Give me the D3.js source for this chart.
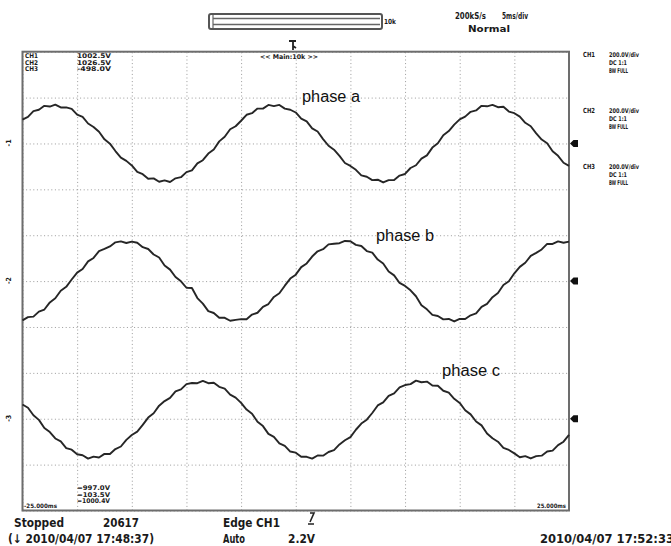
<!DOCTYPE html>
<html>
<head>
<meta charset="utf-8">
<script src="https://cdn.jsdelivr.net/npm/d3@7/dist/d3.min.js"></script>
<style>
  body { margin: 0; background: #fff; }
  svg text { font-family: "Liberation Sans Narrow", "DejaVu Sans Condensed", "Liberation Sans", sans-serif; fill: #1a1a1a; }
  .scope { font-weight: bold; }
  .phase { font-family: "Liberation Sans", Arial, sans-serif; font-weight: normal; fill: #111; }
</style>
</head>
<body>
<svg id="chart" width="671" height="546"></svg>
<script>
// sampled traces, volts, one sample every 0.5 ms from -25 ms
const startMs = -25;
const stepMs = 0.5;
const voltsPerDiv = 200;

const phaseA = [104,116,141,147,164,161,169,157,157,151,126,116,87,72,51,18,-1,-33,-62,-76,
  -96,-124,-134,-154,-152,-167,-161,-168,-152,-147,-125,-117,-87,-73,-44,-26,9,29,62,75,
  99,125,132,152,152,168,163,168,152,147,135,108,96,66,52,19,-10,-27,-54,-85,
  -98,-115,-139,-145,-160,-158,-170,-160,-159,-140,-133,-107,-95,-66,-52,-18,1,36,54,82,
  105,117,138,144,164,162,168,158,160,139,132,117,90,75,44,17,1,-34,-54,-84,-98];

const phaseB = [-171,-157,-155,-133,-124,-93,-75,-42,-25,7,37,53,86,101,131,140,151,169,173,166,
  172,167,148,140,116,103,68,50,18,-1,-29,-30,-74,-98,-131,-139,-160,-160,-173,-169,
  -166,-166,-146,-138,-112,-100,-69,-53,-20,11,28,61,77,107,130,139,160,163,165,175,
  174,158,153,131,124,94,77,42,25,-8,-21,-40,-66,-105,-123,-147,-152,-167,-165,-176,
  -165,-165,-149,-141,-112,-99,-70,-52,-17,-1,34,62,80,110,123,138,162,162,173,167,172];

const phaseC = [62,48,15,-5,-40,-58,-86,-99,-128,-135,-155,-159,-174,-165,-169,-153,-154,-132,-121,-92,
  -71,-56,-27,5,24,57,77,91,119,128,151,156,155,165,155,157,139,131,105,92,
  69,40,22,-13,-32,-66,-79,-107,-118,-143,-148,-166,-166,-174,-160,-161,-145,-137,-112,-94,
  -80,-48,-21,-4,25,58,71,100,111,137,147,151,166,159,162,145,144,122,114,87,
  69,37,19,-12,-29,-64,-85,-100,-127,-136,-151,-168,-163,-173,-163,-161,-143,-139,-115,-100,-70];

const traces = [phaseA, phaseB, phaseC];
const phaseNames = ["phase a", "phase b", "phase c"];
const channelOffsets = [3, 0, -3];           // trace position, divisions
const channelNames = ["CH1", "CH2", "CH3"];
const channelSetup = ["200.0V/div", "DC   1:1", "BW FULL"];
const cursorLevels = ["1002.5V", "1026.5V", "-498.0V"];
const cursorDeltas = ["=997.0V", "=103.5V", "=1000.4V"];
const timeDomain = [-25, 25];
const timeLabels = ["-25.000ms", "25.000ms"];

const svg = d3.select("#chart");
const plotL = 22.5, plotR = 569, plotT = 51.7, plotB = 510.5;

const x = d3.scaleLinear().domain(timeDomain).range([plotL, plotR]);
const y = d3.scaleLinear().domain([-5, 5]).range([plotB, plotT]);

// dotted graticule
const grid = svg.append("g").attr("class", "grid");
grid.append("g")
  .attr("transform", `translate(0, ${plotB})`)
  .call(d3.axisBottom(x).ticks(10).tickSize(-(plotB - plotT)).tickFormat(""));
grid.append("g")
  .attr("transform", `translate(${plotL}, 0)`)
  .call(d3.axisLeft(y).ticks(10).tickSize(-(plotR - plotL)).tickFormat(""));
grid.selectAll(".domain").remove();
grid.selectAll(".tick line")
  .attr("stroke", "#9a9a9a")
  .attr("stroke-width", 1)
  .attr("stroke-dasharray", "1,2.6");

svg.append("rect")
  .attr("x", plotL).attr("y", plotT)
  .attr("width", plotR - plotL).attr("height", plotB - plotT)
  .attr("fill", "none").attr("stroke", "#6d6d6d").attr("stroke-width", 2);

// traces
const line = (off) => d3.line()
  .x((d, i) => x(startMs + i * stepMs))
  .y(d => y(off + d / voltsPerDiv));

traces.forEach((tr, i) => {
  svg.append("path")
    .datum(tr)
    .attr("fill", "none")
    .attr("stroke", "#262626")
    .attr("stroke-width", 1.9)
    .attr("stroke-linejoin", "round")
    .attr("d", line(channelOffsets[i]));
});

// phase labels
const labelPos = [[302, 102], [376, 241], [442, 376]];
svg.selectAll(".phase").data(phaseNames).enter()
  .append("text")
  .attr("class", "phase")
  .attr("x", (d, i) => labelPos[i][0])
  .attr("y", (d, i) => labelPos[i][1])
  .attr("font-size", 16)
  .attr("textLength", 58)
  .attr("lengthAdjust", "spacingAndGlyphs")
  .text(d => d);

// ground markers, right and left
channelOffsets.forEach((off, i) => {
  const gy = y(off);
  svg.append("path")
    .attr("d", `M570,${gy} L573.5,${gy - 3.5} L578,${gy - 3.5} L578,${gy + 3.5} L573.5,${gy + 3.5} Z`)
    .attr("fill", "#111");
  svg.append("text")
    .attr("class", "scope")
    .attr("transform", `translate(11, ${gy + 3}) rotate(-90)`)
    .attr("font-size", 7)
    .text("-" + (i + 1));
});

// scope text helper
const txt = (s, tx, ty, size, len, anchor) => {
  const t = svg.append("text")
    .attr("class", "scope")
    .attr("x", tx).attr("y", ty)
    .attr("font-size", size)
    .attr("text-anchor", anchor || "start")
    .text(s);
  if (len) t.attr("textLength", len).attr("lengthAdjust", "spacingAndGlyphs");
  return t;
};

// record length bar
svg.append("rect").attr("x", 209).attr("y", 14).attr("width", 173).attr("height", 15)
  .attr("rx", 2).attr("fill", "#fff").attr("stroke", "#555").attr("stroke-width", 2);
svg.append("line").attr("x1", 213).attr("x2", 380).attr("y1", 18.5).attr("y2", 18.5)
  .attr("stroke", "#666").attr("stroke-width", 1.5);
svg.append("line").attr("x1", 213).attr("x2", 380).attr("y1", 24.5).attr("y2", 24.5)
  .attr("stroke", "#666").attr("stroke-width", 1.5);
svg.append("line").attr("x1", 213).attr("x2", 213).attr("y1", 15).attr("y2", 28)
  .attr("stroke", "#666").attr("stroke-width", 1.2);
txt("10k", 384, 24, 7, 12);

txt("200kS/s", 455, 19, 9, 31);
txt("5ms/div", 502, 19, 9, 26);
txt("Normal", 468, 32, 9, 42);

// trigger position mark
svg.append("path")
  .attr("d", "M289,41 L296,41 M293,41 L293,50 M293,46 L296,48")
  .attr("stroke", "#222").attr("stroke-width", 1.8).attr("fill", "none");

txt("<< Main:10k >>", 260, 58.5, 6.5, 58);

// cursor info inside frame
channelNames.forEach((c, i) => {
  txt(c, 25, 58 + i * 6.6, 6.5, 13);
  txt(cursorLevels[i], 77, 58 + i * 6.6, 6.5, 34);
  txt(cursorDeltas[i], 77, 490 + i * 6.6, 6.5, 33);
});
txt(timeLabels[0], 24, 507.5, 6, 33);
txt(timeLabels[1], 566, 507.5, 6, 29, "end");

// channel setup column
const setupTop = [57, 113, 169];
channelNames.forEach((c, i) => {
  txt(c, 583, setupTop[i], 7, 12);
  channelSetup.forEach((s, j) => {
    txt(s, 609, setupTop[i] + j * 8, 6.5, j === 0 ? 30 : (j === 1 ? 18 : 19));
  });
});

// status lines
txt("Stopped", 14, 527, 12, 50);
txt("20617", 103, 527, 12, 36);
txt("Edge CH1", 223, 527, 12, 57);
txt("Auto", 223, 543, 12, 22);
txt("2.2V", 288, 543, 12, 27);
txt("(\u2193 2010/04/07 17:48:37)", 8, 543, 12, 146);
txt("2010/04/07 17:52:33", 540, 543, 12, 134);
svg.append("path")
  .attr("d", "M310,513 L314,513 L310,522 M308,524 L314,524")
  .attr("stroke", "#222").attr("stroke-width", 1.6).attr("fill", "none");
</script>
</body>
</html>
